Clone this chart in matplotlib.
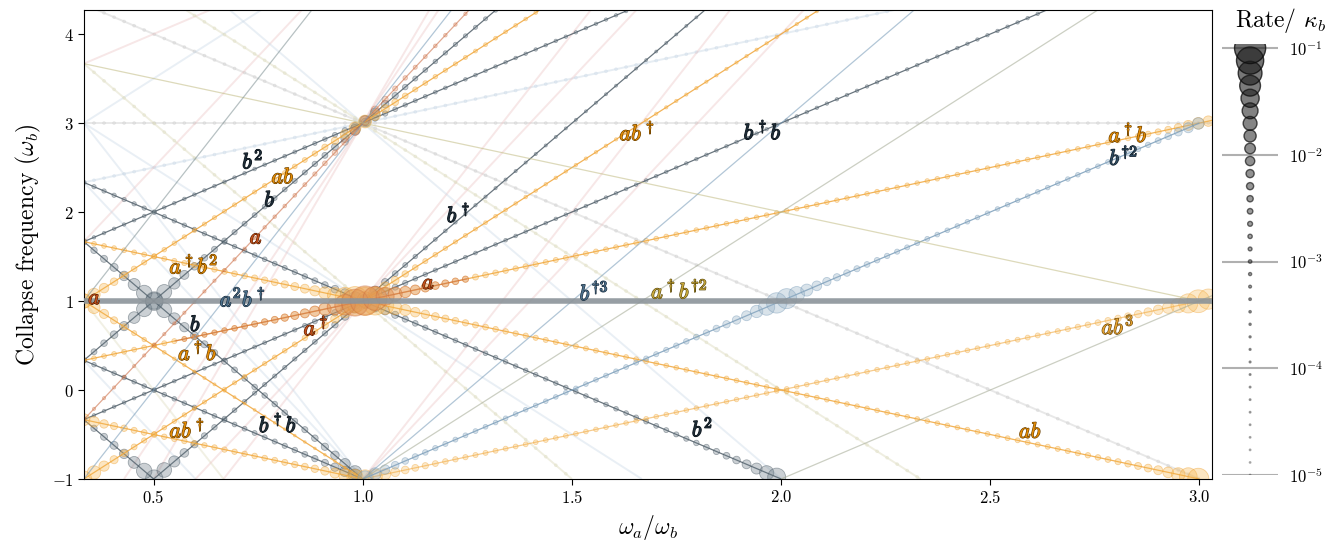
import numpy as np
import matplotlib
matplotlib.use('Agg')
import matplotlib.pyplot as plt
import matplotlib.patheffects as pe
from matplotlib.colors import to_rgba

plt.rcParams['font.family'] = 'serif'
plt.rcParams['font.serif'] = ['cmr10']
plt.rcParams['mathtext.fontset'] = 'cm'
plt.rcParams['axes.formatter.use_mathtext'] = True

# sweep of omega_a / omega_b where the collapse operators were evaluated
wa_grid = np.arange(1/3, 3.04, 0.024)

# every branch is a straight segment (endpoints)
seg_op = ['b', 'b', 'b', 'b', 'b', 'b', 'b', 'b',
          'o', 'o', 'o', 'o', 'o', 'o', 'o', 'r', 'r',
          'bd', 'bd', 'bd', 'g', 'g', 'ol', 'tg',
          'gr', 'gr', 'pb', 'pb', 'pb', 'pr', 'pr', 'pr', 'be', 'pb',
          'be', 'pr', 'pr', 'pr', 'pr', 'pb', 'pb', 'be', 'pb', 'pr']
seg_x0 = [0.333, 0.333, 0.333, 0.5, 0.333, 0.333, 0.333, 0.333,
          0.333, 0.333, 0.333, 0.333, 1.0, 0.333, 0.333, 0.333, 0.55,
          1.0, 1.0, 0.333, 1.0, 2.0, 0.333, 0.333,
          0.333, 0.365, 0.333, 0.333, 0.333, 0.333, 0.333, 0.667, 0.333, 0.682,
          0.577, 0.429, 0.5, 1.0, 1.0, 0.333, 0.333, 0.333, 0.333, 0.6]
seg_y0 = [1.667, 2.333, 0.333, -1.0, -0.333, 0.333, 1.667, -0.333,
          1.0, 1.667, 0.333, -1.0, -1.0, 1.0, -0.333, -0.333, 0.55,
          -1.0, -1.0, -1.0, -1.0, -1.0, 3.667, 1.0,
          3.0, 4.27, 2.333, 3.0, 3.0, 3.667, 1.667, -1.0, 3.667, 4.27,
          4.27, -1.0, -1.0, -1.0, -1.0, 3.0, 2.333, 1.0, 0.333, -1.0]
seg_x1 = [1.635, 2.0, 1.318, 1.818, 2.635, 1.0, 1.0, 0.5,
          1.423, 3.0, 3.03, 2.09, 3.03, 1.0, 1.0, 1.254, 1.25,
          3.0, 2.318, 1.212, 2.757, 3.03, 3.03, 0.878,
          3.03, 3.0, 2.27, 0.757, 1.667, 0.635, 0.854, 1.545, 1.5, 2.0,
          2.333, 1.181, 1.159, 2.054, 1.878, 1.0, 1.0, 0.667, 0.6, 1.654]
seg_y1 = [4.27, -1.0, 4.27, 4.27, 4.27, -1.0, -1.0, -1.0,
          4.27, -1.0, 3.03, 4.27, 1.03, -1.0, -1.0, 4.27, 1.25,
          3.0, 4.27, 4.27, 4.27, 1.06, 0.97, 4.27,
          3.0, -1.0, 4.27, 4.27, -1.0, 4.27, 4.27, 4.27, -1.0, -1.0,
          -1.0, 4.27, 4.27, 4.27, 4.27, -1.0, -1.0, -1.0, -1.0, 4.27]

# operator labels
lab_text = [r'$a$', r'$b^2$', r'$ab$', r'$b$', r'$a$', r'$a^\dagger b^2$', r'$a^2b^\dagger$',
            r'$b$', r'$a^\dagger b$', r'$a^\dagger$', r'$ab^\dagger$', r'$b^\dagger b$',
            r'$b^\dagger$', r'$a$', r'$ab^\dagger$', r'$b^\dagger b$', r'$b^{\dagger 3}$',
            r'$a^\dagger b^{\dagger 2}$', r'$b^2$', r'$a^\dagger b$', r'$b^{\dagger 2}$',
            r'$ab^3$', r'$ab$']
lab_x = [0.359, 0.737, 0.809, 0.778, 0.745, 0.596, 0.713, 0.60, 0.605, 0.888, 0.58, 0.797,
         1.229, 1.157, 1.656, 1.956, 1.553, 1.757, 1.812, 2.829, 2.819, 2.805, 2.596]
lab_y = [1.03, 2.58, 2.39, 2.13, 1.71, 1.40, 1.03, 0.73, 0.42, 0.70, -0.45, -0.39,
         1.97, 1.20, 2.89, 2.90, 1.10, 1.12, -0.43, 2.87, 2.62, 0.72, -0.47]
lab_op = ['r', 'b', 'o', 'b', 'r', 'o', 'bd', 'b', 'o', 'r', 'o', 'b',
          'b', 'r', 'o', 'b', 'bd', 'ol', 'b', 'o', 'bdk', 'o2', 'o']

rate_ticks = [1e-5, 1e-4, 1e-3, 1e-2, 1e-1]

# ---- styles ----
line_col = {'b': '#44535e', 'o': '#efa02e', 'r': '#c8643a', 'bd': '#7398b6', 'g': '#a2a892',
            'ol': '#c1bb82', 'tg': '#7d8f92', 'gr': '#cdcdcd', 'pb': '#c9d8e6',
            'pr': '#ebc4c4', 'be': '#dddbbd'}
dot_col = {'b': '#6a7a85', 'o': '#f7b850', 'r': '#d98a5e', 'bd': '#94afc4',
           'gr': '#d0d0d0', 'pb': '#ccdaea', 'be': '#dedec4'}
lab_col = {'b': '#1e2c37', 'o': '#e58c05', 'r': '#c4501c', 'bd': '#4c708c', 'bdk': '#2e4a60',
           'ol': '#c9a93a', 'o2': '#e9a431'}
lab_edge = {'b': '#0e161c', 'o': '#6a4000', 'r': '#5a2000', 'bd': '#1e3040', 'bdk': '#15222c',
            'ol': '#5e4c10', 'o2': '#6a4a10'}
# look: (linewidth, alpha, dot alpha, base dot size)
looks = {'strong': (0.9, 0.8, 0.35, 8), 'light': (0.9, 0.55, 0.3, 8),
         'thin': (0.9, 0.55, 0, 0), 'faint': (1.4, 0.4, 0, 0), 'faintdot': (1.4, 0.45, 0.3, 4)}
seg_look = ['strong'] * 8 + ['strong'] * 4 + ['light', 'strong', 'strong', 'light', 'light'] + \
           ['strong', 'thin', 'thin', 'thin', 'thin', 'thin', 'thin'] + \
           ['faintdot', 'faintdot', 'faintdot', 'faint', 'faint', 'faint', 'faint', 'faint',
            'faintdot', 'faint', 'faintdot', 'faint', 'faint', 'faint', 'faint', 'faint',
            'faint', 'faint', 'faint', 'faint']
seg_base = {0: 6, 1: 9, 2: 7, 3: 4, 4: 6, 5: 10, 6: 10, 7: 10, 8: 6, 9: 10, 10: 10, 11: 5,
            12: 10, 13: 3, 14: 12, 15: 5, 16: 8, 17: 9}
seg_hot = {0: [(1.0, 25)], 1: [(1.0, 80), (2.0, 170)], 2: [(0.5, 150), (1.0, 60)],
           3: [(0.5, 150), (1.0, 60)], 4: [(1.0, 60)], 5: [(1.0, 100)],
           6: [(0.5, 150), (1.0, 100)], 7: [(0.5, 150)], 8: [(0.333, 100), (1.0, 80)],
           9: [(1.0, 400), (3.0, 220)], 10: [(1.0, 400), (3.0, 60)],
           11: [(0.333, 120), (1.0, 120)], 12: [(1.0, 150), (3.0, 260)], 13: [(0.333, 100)],
           14: [(1.0, 150), (0.333, 60)], 15: [(1.0, 40)], 16: [(1.0, 450)],
           17: [(2.0, 220), (1.0, 100), (3.0, 60)]}

fig = plt.figure(figsize=(13.37, 5.41), dpi=100)
ax = fig.add_axes([0.0628, 0.1146, 0.8437, 0.8669])

for i in range(len(seg_op)):
    op = seg_op[i]
    lw, al, dal, base = looks[seg_look[i]]
    base = seg_base.get(i, base)
    zo = 1 if seg_look[i].startswith('faint') else 2
    xa, xb = seg_x0[i], seg_x1[i]
    ya, yb = seg_y0[i], seg_y1[i]
    ax.plot([xa, xb], [ya, yb], color=line_col[op], lw=lw, alpha=al, zorder=zo,
            solid_capstyle='butt')
    if dal > 0:
        if xa > xb:
            xa, xb, ya, yb = xb, xa, yb, ya
        xs = wa_grid[(wa_grid >= xa - 1e-6) & (wa_grid <= xb + 1e-6)]
        ys = np.interp(xs, [xa, xb], [ya, yb])
        sz = np.full(len(xs), float(base))
        for h, peak in seg_hot.get(i, []):
            sz += peak * 0.04**2 / ((xs - h)**2 + 0.04**2)
        fc = to_rgba(dot_col.get(op, line_col[op]), dal)
        ec = to_rgba(line_col[op], min(1, dal + 0.1))
        ax.scatter(xs, ys, s=sz, facecolor=fc, edgecolor=ec, linewidths=0.6,
                   zorder=zo, clip_on=True)

# thick branch at omega_b
ax.axhline(1.0, color='#8c949a', lw=4, alpha=0.9, zorder=3)

for t, x, y, op in zip(lab_text, lab_x, lab_y, lab_op):
    ax.text(x, y, t, color=lab_col[op], fontsize=16, ha='center', va='center', zorder=6,
            path_effects=[pe.withStroke(linewidth=0.9, foreground=lab_edge[op])])

ax.set_xlim(1/3, 3.03)
ax.set_ylim(-1, 4.27)
ax.set_xticks([0.5, 1.0, 1.5, 2.0, 2.5, 3.0])
ax.set_yticks([-1, 0, 1, 2, 3, 4])
ax.tick_params(labelsize=12, direction='out', length=4)
ax.set_xlabel(r'$\omega_a/\omega_b$', fontsize=17, labelpad=5)
ax.set_ylabel(r'Collapse frequency ($\omega_b$)', fontsize=17, labelpad=6)

# rate scale
ax2 = fig.add_axes([0.914, 0.122, 0.042, 0.7974])
rates = np.logspace(-5, -1, 35)
for d in rate_ticks:
    ax2.axhline(d, color='#b0b0b0', lw=1.5, zorder=0)
fr = (np.log10(rates) + 5) / 4
ax2.scatter(np.zeros(len(rates)), rates, s=5000 * rates + 1,
            facecolor=[(0.1, 0.1, 0.1, 0.12 + 0.5 * f) for f in fr],
            edgecolor=[(0.05, 0.05, 0.05, 0.3 + 0.5 * f) for f in fr],
            linewidths=1.0, clip_on=True, zorder=2)
ax2.set_yscale('log')
ax2.set_ylim(1e-5, 1.1e-1)
ax2.set_xlim(-1, 1)
ax2.set_yticks(rate_ticks)
ax2.minorticks_off()
ax2.set_xticks([])
ax2.tick_params(axis='y', length=0, labelleft=False, labelright=True, labelsize=12, pad=8)
for s in ax2.spines.values():
    s.set_visible(False)
ax2.patch.set_alpha(0)
fig.text(0.958, 0.962, r'Rate/ $\kappa_b$', ha='center', va='center', fontsize=17)

fig.savefig('out.png', dpi=100)
